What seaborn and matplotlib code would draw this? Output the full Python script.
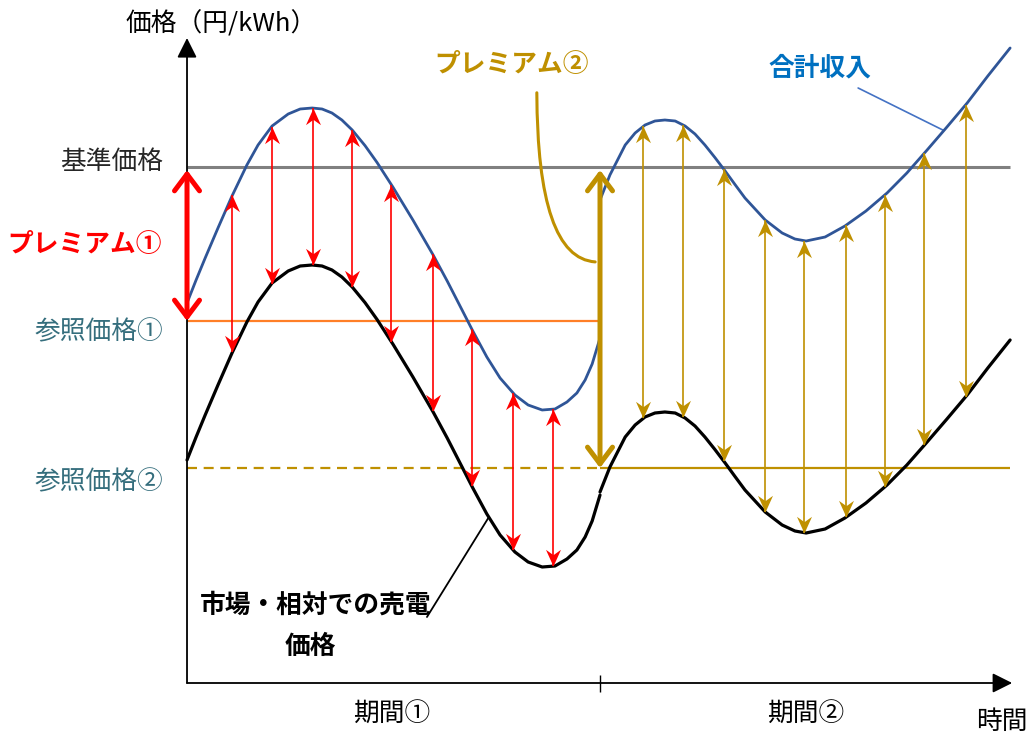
import matplotlib
matplotlib.use('Agg')
import matplotlib.pyplot as plt
from matplotlib.path import Path
from matplotlib.patches import FancyArrowPatch
import numpy as np
import pandas as pd
import seaborn as sns

# --- values (time units / 円/kWh units) ---
# market / bilateral selling price, period ①
t_p1 = [0.00, 0.22, 0.44, 0.75, 1.09, 1.45, 1.72, 2.06, 2.45, 2.74, 3.03, 3.27, 3.51,
        3.75, 4.00, 4.31, 4.60, 4.99, 5.47, 5.96, 6.30, 6.66, 6.92, 7.26, 7.58, 7.94,
        8.26, 8.60, 8.91, 9.20, 9.44, 9.64, 9.81, 10.00]
market_p1 = [11.15, 12.3, 13.4, 14.9, 16.5, 18.05, 19.05, 20.0, 20.6, 20.85, 20.9, 20.85,
             20.65, 20.3, 19.8, 19.02, 18.18, 16.93, 15.3, 13.55, 12.25, 10.8, 9.75, 8.45,
             7.4, 6.55, 6.05, 5.8, 5.85, 6.2, 6.65, 7.3, 8.1, 9.4]
# market / bilateral selling price, period ②
t_p2 = [10.00, 10.24, 10.61, 10.85, 11.09, 11.33, 11.57, 11.82, 12.06, 12.30, 12.54,
        12.78, 13.03, 13.27, 13.51, 14.00, 14.41, 14.72, 14.99, 15.45, 15.93, 16.44,
        16.95, 17.43, 17.92, 18.40, 18.89, 19.39, 19.93]
market_p2 = [9.55, 10.8, 12.3, 12.9, 13.3, 13.5, 13.55, 13.5, 13.25, 12.85, 12.3, 11.68,
             11.0, 10.32, 9.65, 8.55, 7.9, 7.6, 7.5, 7.7, 8.25, 9.0, 9.9, 10.9, 12.05,
             13.2, 14.4, 15.75, 17.15]

base_price = 25.8          # 基準価格
ref_price = [18.1, 10.75]  # 参照価格①, ②
premium = [7.85, 14.6]     # gap between 合計収入 and market price
period_end = [10.0, 19.93]

arrow_t1 = [1.1, 2.05, 3.05, 4.0, 4.95, 5.95, 6.9, 7.9, 8.85]
arrow_t2 = [11.05, 12.0, 13.0, 14.0, 14.95, 15.95, 16.9, 17.85, 18.85]

period_labels = ['期間①', '期間②']

# --- colours ---
BLUE = '#2F5597'
GOLD = '#BF9000'
RED = '#FF0000'
ORANGE = '#FF7F27'
TEAL = '#356E7D'

sns.set_theme(style='white')
plt.rcParams['font.family'] = ['Noto Sans CJK JP', 'DejaVu Sans']

fig = plt.figure(figsize=(10.33, 7.36), dpi=100)
ax = fig.add_axes([0, 0, 1, 1])
ax.set_xlim(-4.528, 20.484)
ax.set_ylim(-2.65, 34.15)

df1 = pd.DataFrame({'t': t_p1, 'market': market_p1})
df1['total'] = df1['market'] + premium[0]
df2 = pd.DataFrame({'t': t_p2, 'market': market_p2})
df2['total'] = df2['market'] + premium[1]

# horizontal reference lines
ax.hlines(base_price, 0, period_end[1], color='#808080', lw=2.2, zorder=1)
ax.hlines(ref_price[0], 0, period_end[0], color=ORANGE, lw=1.6, zorder=1)
ax.hlines(ref_price[1], 0, period_end[0], color=GOLD, lw=1.6, linestyles=(0, (4.5, 3)), zorder=1)
ax.hlines(ref_price[1], period_end[0], period_end[1], color=GOLD, lw=1.6, zorder=1)

# curves
for df in (df1, df2):
    sns.lineplot(data=df, x='t', y='market', color='black', lw=2.3, sort=False,
                 estimator=None, ax=ax, zorder=3, solid_joinstyle='round')
    sns.lineplot(data=df, x='t', y='total', color=BLUE, lw=2.0, sort=False,
                 estimator=None, ax=ax, zorder=3, solid_joinstyle='round')

# thin double arrows (stealth-like heads)
head_up = Path([(0, 0), (0.45, -1), (0, -0.68), (-0.45, -1), (0, 0)],
               [Path.MOVETO, Path.LINETO, Path.LINETO, Path.LINETO, Path.CLOSEPOLY])
head_down = Path(head_up.vertices * np.array([1, -1]), head_up.codes)


def double_arrows(ts, t_curve, m_curve, prem, color):
    lows = np.interp(ts, t_curve, m_curve)
    highs = lows + prem
    ax.vlines(ts, lows, highs, color=color, lw=1.2, zorder=4)
    ax.plot(ts, highs, ls='none', marker=head_up, ms=24, color=color, mew=0, zorder=5)
    ax.plot(ts, lows, ls='none', marker=head_down, ms=24, color=color, mew=0, zorder=5)


double_arrows(arrow_t1, t_p1, market_p1, premium[0], RED)
double_arrows(arrow_t2, t_p2, market_p2, premium[1], GOLD)

# thick premium arrows
thick = '<->,head_length=0.6,head_width=0.45'
ax.annotate('', xy=(0, ref_price[0]), xytext=(0, base_price - 0.15),
            arrowprops=dict(arrowstyle=thick, lw=3.6, color=RED, shrinkA=0, shrinkB=0,
                            mutation_scale=20), zorder=6)
ax.annotate('', xy=(period_end[0], ref_price[1]), xytext=(period_end[0], base_price - 0.15),
            arrowprops=dict(arrowstyle=thick, lw=3.6, color=GOLD, shrinkA=0, shrinkB=0,
                            mutation_scale=20), zorder=6)

# axes with arrow heads
axis_arrow = dict(arrowstyle='-|>,head_length=0.6,head_width=0.3', lw=1.3, color='black',
                  shrinkA=0, shrinkB=0, mutation_scale=20)
ax.annotate('', xy=(0, 32.25), xytext=(0, 0), arrowprops=axis_arrow)
ax.annotate('', xy=(19.98, 0), xytext=(0, 0), arrowprops=axis_arrow)
ax.vlines(period_end[0], -0.45, 0.4, color='black', lw=1.0)

# leader lines
ax.add_patch(FancyArrowPatch((8.47, 29.65), (period_end[0] - 0.05, 21.05),
                             connectionstyle='angle3,angleA=90,angleB=0',
                             arrowstyle='-', lw=2.2, color=GOLD))
ax.plot([16.25, 18.3], [29.75, 27.65], color='#4472C4', lw=1.2)
ax.plot([5.81, 7.31], [3.3, 8.3], color='black', lw=1.3)

# texts
fs = 18.5
ax.text(-1.50, 32.95, '価格（円/kWh）', fontsize=fs, ha='left', va='center', color='black')
ax.text(-0.58, base_price + 0.25, '基準価格', fontsize=fs, ha='right', va='center', color='#262626')
ax.text(-2.49, 21.9, 'プレミアム①', fontsize=fs, ha='center', va='center', color=RED,
        fontweight='bold')
ax.text(-0.58, ref_price[0] - 0.55, '参照価格①', fontsize=fs, ha='right', va='center', color=TEAL)
ax.text(-0.58, ref_price[1] - 0.7, '参照価格②', fontsize=fs, ha='right', va='center', color=TEAL)
ax.text(7.85, 30.9, 'プレミアム②', fontsize=fs, ha='center', va='center', color=GOLD,
        fontweight='bold')
ax.text(15.33, 30.75, '合計収入', fontsize=fs, ha='center', va='center', color='#0070C0',
        fontweight='bold')
ax.text(0.31, 3.9, '市場・相対での売電', fontsize=fs, ha='left', va='center', color='black',
        fontweight='bold')
ax.text(2.98, 1.85, '価格', fontsize=fs, ha='center', va='center', color='black',
        fontweight='bold')
ax.text(4.96, -1.6, period_labels[0], fontsize=fs, ha='center', va='center', color='black')
ax.text(14.99, -1.6, period_labels[1], fontsize=fs, ha='center', va='center', color='black')
ax.text(19.73, -1.95, '時間', fontsize=fs, ha='center', va='center', color='black')

ax.axis('off')
fig.savefig('out.png', dpi=100, facecolor='white')
